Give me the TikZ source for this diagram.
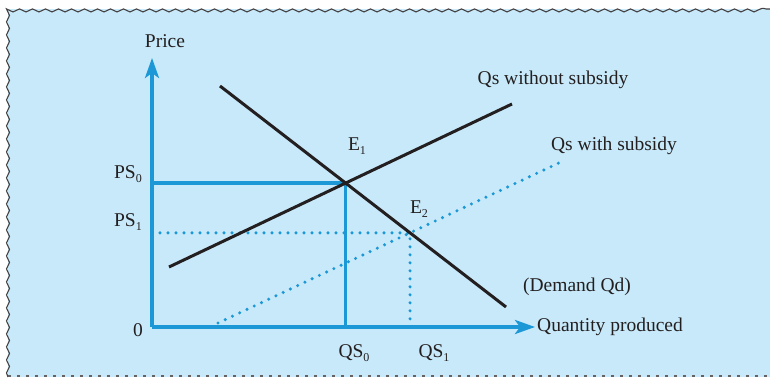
\documentclass[tikz,border=0pt]{standalone}
\usepackage{fontspec}
\setmainfont{Liberation Serif}
\usepackage{tikz}
\usetikzlibrary{arrows.meta,positioning,decorations.pathmorphing}

\definecolor{panel}{HTML}{C8E9F9}
\definecolor{axisblue}{HTML}{1B98D5}
\definecolor{ink}{HTML}{231F20}

\newcommand{\lowsub}[1]{\raisebox{-0.45ex}{\fontsize{12}{12}\selectfont #1}}

\begin{document}
\begin{tikzpicture}[
    x=1pt, y=-1pt,
    font=\fontsize{19.5}{22}\selectfont,
    axis/.style={axisblue, line width=3.4pt, -{Stealth[length=20pt,width=14pt,inset=5pt]}},
    curve/.style={ink, line width=3pt},
    guide/.style={axisblue, line width=3.2pt},
    dotline/.style={axisblue, line width=3.4pt, line cap=round, dash pattern=on 0pt off 8pt},
    lab/.style={text=ink, inner sep=0pt}
]
\useasboundingbox (0,0) rectangle (770,377);
\fill[panel] (8,9) rectangle (770,377);
\draw[ink!85, line width=1.1pt, decorate, decoration={snake,amplitude=1.5pt,segment length=13pt}]
    (8,377) -- (8,9) -- (770,9);
\draw[ink!70, line width=1.2pt, dash pattern=on 3pt off 6pt] (8,376) -- (770,376);

% axes
\coordinate (O) at (152,327);
\coordinate (ytop) at (152,58);
\coordinate (xend) at (535,327);
\draw[axis] (O) -- (ytop);
\draw[axis] (O) -- (xend);

% curves
\coordinate (d1) at (220,86);
\coordinate (d2) at (506,307);
\coordinate (s1) at (169,267);
\coordinate (s2) at (512,104);
\coordinate (t1) at (218,323);
\coordinate (t2) at (563,161);

\coordinate (E1) at (intersection of d1--d2 and s1--s2);
\coordinate (E2) at (intersection of d1--d2 and t1--t2);

\draw[guide] (O |- E1) -- (E1) -- (E1 |- O);
\draw[dotline] (O |- E2) -- (E2) -- (E2 |- O);
\draw[dotline] (t1) -- (t2);
\draw[curve] (d1) -- (d2);
\draw[curve] (s1) -- (s2);

% labels
\node[lab] (price) at (165,41) {Price};
\node[lab, right=2pt of xend] (qty) {Quantity produced};
\node[lab] (zero) at (138,330) {0};
\node[lab] (ps0) at (128,174) {PS\lowsub{0}};
\node[lab] (ps1) at (128,222) {PS\lowsub{1}};
\node[lab] (qs0) at (354,353) {QS\lowsub{0}};
\node[lab] (qs1) at (434,353) {QS\lowsub{1}};
\node[lab] (e1) at (357,146) {E\lowsub{1}};
\node[lab] (e2) at (419,209) {E\lowsub{2}};
\node[lab] (sup0) at (553,80) {Qs without subsidy};
\node[lab] (sup1) at (614,146) {Qs with subsidy};
\node[lab] (dem) at (577,287) {(Demand Qd)};
\end{tikzpicture}
\end{document}
